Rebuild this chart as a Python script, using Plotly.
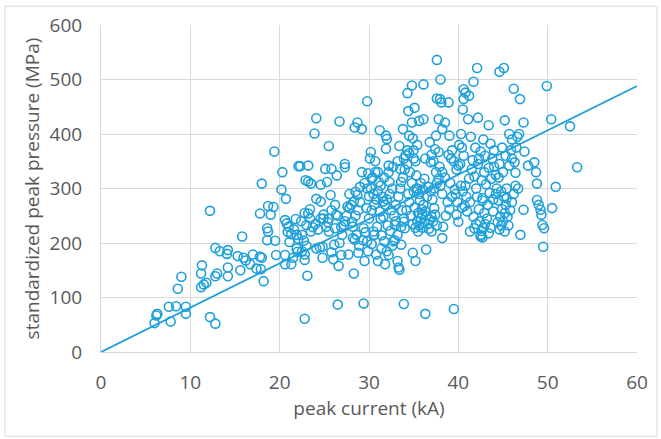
import plotly.graph_objects as go

# peak current (kA) and standardized peak pressure (MPa)
peak_current = [
    6.0, 6.3, 6.2, 7.6, 7.8, 8.4, 8.6, 9.0, 9.5, 9.5, 11.3, 11.2, 11.2, 11.5, 11.8, 12.2, 12.2, 12.8, 12.8, 13.3,
    12.8, 13.0, 14.2, 14.1, 14.2, 14.2, 15.8, 15.3, 15.6, 15.95, 16.2, 16.7, 17.0, 17.4, 17.8, 18.0, 17.9, 18.0, 18.2, 17.8,
    18.6, 18.7, 18.6, 18.7, 19.0, 19.3, 19.5, 19.4, 19.6, 20.2, 20.3, 20.7, 20.6, 20.8, 20.9, 20.6, 20.6, 21.3, 21.1, 21.3,
    21.5, 21.8, 21.9, 22.0, 22.1, 22.1, 22.3, 23.2, 22.9, 23.2, 23.5, 22.5, 22.7, 23.2, 23.4, 23.0, 22.8, 22.8, 23.1, 22.8,
    23.5, 23.7, 24.1, 24.5, 24.8, 24.6, 23.9, 24.1, 24.1, 24.6, 24.8, 25.1, 25.5, 25.3, 25.8, 25.7, 24.9, 24.9, 25.4, 25.5,
    25.8, 26.0, 26.1, 26.2, 26.3, 26.4, 26.6, 26.5, 26.7, 26.9, 27.2, 27.3, 27.3, 27.6, 27.8, 27.7, 28.1, 28.3, 28.2, 28.4,
    28.3, 28.5, 28.7, 28.4, 28.7, 28.8, 29.0, 29.2, 29.4, 29.4, 29.5, 29.7, 29.8, 29.8, 29.9, 30.1, 29.9, 30.0, 30.2, 30.3,
    30.5, 30.6, 30.7, 30.8, 31.0, 31.1, 31.2, 31.3, 31.4, 31.6, 31.7, 31.9, 31.9, 32.0, 31.8, 32.2, 32.2, 32.3, 32.6, 32.7,
    32.9, 33.2, 33.3, 33.4, 33.4, 33.5, 33.6, 33.6, 33.8, 33.9, 33.9, 34.0, 34.1, 34.3, 34.4, 34.5, 34.8, 34.8, 34.9, 35.1,
    34.9, 35.2, 35.0, 35.3, 35.4, 35.5, 35.6, 35.95, 36.1, 36.1, 36.3, 36.3, 36.4, 36.65, 36.9, 37.0, 37.3, 37.5, 37.6, 37.6,
    37.8, 37.8, 38.0, 37.95, 38.1, 38.2, 38.2, 38.2, 38.5, 38.9, 39.0, 39.2, 39.5, 39.8, 40.0, 40.3, 40.5, 40.6, 40.6, 40.8,
    41.1, 41.2, 41.3, 41.7, 41.8, 42.1, 42.2, 42.5, 42.7, 43.4, 43.9, 44.6, 45.1, 45.2, 45.2, 45.4, 45.7, 46.2, 46.3, 46.4,
    46.7, 46.9, 46.8, 46.95, 47.3, 47.3, 47.4, 47.8, 48.5, 48.7, 48.8, 48.8, 49.0, 49.2, 49.3, 49.4, 49.6, 49.5, 49.9, 50.4,
    50.5, 50.9, 52.5, 53.3,
    35.4, 35.6, 35.8, 36.0, 36.2, 36.4, 36.6, 36.8, 35.5, 35.9, 36.3, 36.7, 37.0, 35.2, 36.1, 35.7, 36.5, 36.9, 35.3, 35.8,
    36.2, 35.6, 36.0, 37.2, 37.4, 37.6,
    42.5, 42.6, 42.8, 43.0, 42.4, 43.2, 42.9, 42.3, 43.3, 42.7, 42.1, 43.5, 42.0, 43.1, 42.6, 41.8, 42.9, 43.4, 42.2, 41.6,
    43.0, 42.5, 41.9, 43.6, 42.8, 41.4, 42.3, 41.5, 41.2, 40.8, 40.5, 40.9, 41.3, 40.7, 41.0, 40.2, 40.6, 40.4, 43.8, 44.0,
    44.2, 43.7, 44.3, 43.9, 42.0, 41.7, 43.6, 43.4, 42.7,
    44.6, 44.8, 45.0, 44.7, 45.2, 44.9, 45.3, 44.5, 45.1, 44.8, 45.5, 45.6, 44.4, 45.4, 44.2, 45.8, 46.0, 46.2, 46.4, 45.7,
    46.0, 45.9, 46.5, 46.6, 46.0, 44.9, 45.3, 44.6, 44.0, 44.5, 45.0,
    38.3, 38.6, 39.0, 38.8, 39.3, 39.6, 39.1, 38.5, 39.8, 40.0, 39.5, 38.9, 39.3, 40.1, 39.7, 40.3, 39.9, 40.4, 38.2, 38.0,
    37.8, 37.5, 37.9, 37.2, 37.0, 37.4, 36.8, 37.6, 37.3, 37.1,
    30.2, 30.5, 30.8, 31.0, 31.3, 31.5, 31.8, 32.0, 32.3, 32.5, 32.8, 33.0, 33.3, 33.5, 33.8, 34.0, 34.3, 34.6, 34.8, 35.0,
    34.5, 34.2, 33.9, 33.6, 33.2, 32.9, 32.4, 32.1, 31.6, 31.2, 30.9, 30.6, 30.3, 31.4, 32.0, 32.6, 33.0, 34.7, 34.9, 35.1,
    34.4, 33.7, 31.7, 32.2, 32.7, 33.2, 33.9, 34.5, 35.0, 35.4, 31.0, 30.7, 30.4, 29.8, 29.5, 29.2, 29.0, 28.8, 28.5, 28.0,
    27.8, 27.5, 27.3, 26.9, 26.5, 26.2, 25.8, 25.5, 25.2, 29.6, 29.3, 28.9, 28.6, 28.2, 27.0, 26.7, 30.0, 30.3, 35.2, 34.3,
    21.0, 21.6, 22.4, 22.8, 23.4, 24.0, 24.3, 24.6, 21.9, 22.5, 23.0,
]
peak_pressure = [
    53, 70, 67, 83, 56, 84, 116, 138, 83, 70, 159, 144, 119, 124, 127, 259, 64, 52, 191, 185,
    139, 144, 187, 180, 139, 155, 212, 176, 150, 173, 168, 161, 179, 153, 175, 173, 152, 309, 130, 254,
    227, 221, 205, 268, 252, 266, 204, 368, 178, 298, 330, 281, 242, 236, 220, 178, 161, 161, 202, 216,
    173, 244, 215, 184, 208, 341, 341, 342, 315, 313, 309, 215, 204, 254, 245, 233, 179, 169, 140, 61,
    221, 229, 190, 192, 193, 307, 401, 429, 281, 276, 173, 336, 378, 312, 336, 288, 252, 245, 238, 221,
    183, 170, 197, 227, 252, 324, 158, 87, 423, 178, 233, 345, 339, 267, 264, 179, 239, 144, 209, 206,
    276, 294, 421, 412, 288, 182, 303, 409, 227, 89, 167, 264, 460, 203, 185, 355, 328, 286, 367, 318,
    221, 270, 330, 179, 167, 312, 407, 245, 214, 276, 203, 397, 373, 391, 161, 178, 342, 312, 300, 203,
    233, 167, 155, 151, 378, 336, 197, 312, 409, 88, 239, 227, 361, 475, 442, 397, 489, 421, 392, 448,
    182, 167, 355, 324, 300, 221, 424, 252, 491, 427, 70, 355, 188, 303, 348, 221, 264, 397, 536, 465,
    427, 367, 500, 464, 458, 409, 209, 330, 421, 458, 397, 355, 79, 252, 239, 400, 445, 482, 464, 476,
    427, 470, 221, 496, 227, 521, 430, 212, 282, 416, 258, 514, 521, 425, 221, 282, 400, 483, 348, 329,
    300, 464, 400, 215, 261, 421, 368, 342, 348, 330, 279, 309, 270, 261, 252, 233, 227, 193, 488, 427,
    264, 303, 414, 339,
    240, 232, 245, 228, 238, 250, 235, 243, 255, 262, 258, 226, 248, 228, 270, 278, 285, 295, 300, 310,
    318, 290, 298, 240, 252, 232,
    215, 222, 228, 235, 240, 245, 255, 262, 270, 278, 285, 292, 300, 308, 315, 322, 330, 338, 345, 352,
    360, 368, 375, 382, 390, 395, 355, 335, 318, 305, 295, 285, 275, 268, 258, 345, 360, 375, 355, 340,
    325, 318, 300, 280, 235, 248, 228, 218, 210,
    225, 232, 240, 248, 255, 262, 270, 278, 285, 295, 248, 232, 238, 300, 290, 260, 275, 290, 305, 342,
    355, 370, 375, 395, 390, 375, 360, 345, 370, 320, 330,
    230, 250, 262, 275, 285, 298, 310, 320, 335, 342, 350, 362, 370, 380, 290, 305, 275, 265, 290, 305,
    318, 330, 340, 350, 362, 372, 385, 310, 300, 280,
    300, 290, 280, 295, 305, 285, 270, 280, 290, 260, 250, 270, 285, 300, 320, 335, 345, 330, 310, 295,
    275, 260, 245, 230, 215, 205, 222, 232, 248, 258, 230, 215, 198, 190, 185, 195, 240, 250, 235, 265,
    290, 260, 320, 330, 340, 350, 355, 365, 370, 380, 330, 350, 320, 300, 310, 330, 275, 260, 250, 270,
    290, 250, 240, 230, 250, 270, 260, 245, 230, 220, 205, 195, 215, 230, 215, 200, 245, 260, 350, 370,
    230, 225, 240, 255, 262, 235, 225, 245, 190, 185, 195,
]

# linear trend line through the origin
trend_x = [0, 60]
trend_y = [0, 488]

color = "#1FA0DA"
fig = go.Figure()
fig.add_trace(go.Scatter(
    x=peak_current, y=peak_pressure, mode="markers",
    marker=dict(symbol="circle-open", size=9, color=color, line=dict(width=1.6, color=color)),
    showlegend=False, hoverinfo="x+y",
))
fig.add_trace(go.Scatter(
    x=trend_x, y=trend_y, mode="lines",
    line=dict(color=color, width=1.8), showlegend=False, hoverinfo="skip",
))

fam = "Open Sans, Liberation Sans, sans-serif"
axis_font = dict(family=fam, size=19, color="#595959")
title_font = dict(family=fam, size=19, color="#595959")
fig.update_layout(
    width=661, height=439,
    margin=dict(l=101, r=24, t=22, b=87),
    paper_bgcolor="white", plot_bgcolor="white",
    xaxis=dict(
        range=[0, 60], dtick=10, tick0=0,
        showgrid=True, gridcolor="#D9D9D9", gridwidth=1,
        zeroline=False, showline=True, linecolor="#D9D9D9", linewidth=1,
        ticks="", tickfont=axis_font, ticklabelstandoff=13,
        title=dict(text="peak current (kA)", font=title_font, standoff=4),
    ),
    yaxis=dict(
        range=[0, 600], dtick=100, tick0=0,
        showgrid=True, gridcolor="#D9D9D9", gridwidth=1,
        zeroline=False, showline=True, linecolor="#D9D9D9", linewidth=1,
        ticks="", tickfont=axis_font, ticklabelstandoff=14,
        title=dict(text="standardized peak pressure (MPa)", font=title_font, standoff=4),
    ),
    shapes=[dict(
        type="rect", xref="paper", yref="paper",
        x0=(5 - 101) / 536, x1=(657 - 101) / 536,
        y0=(352 - 437) / 330, y1=(352 - 3) / 330,
        line=dict(color="#D9D9D9", width=1), fillcolor="rgba(0,0,0,0)", layer="below",
    )],
)

fig.write_html("out.html")
